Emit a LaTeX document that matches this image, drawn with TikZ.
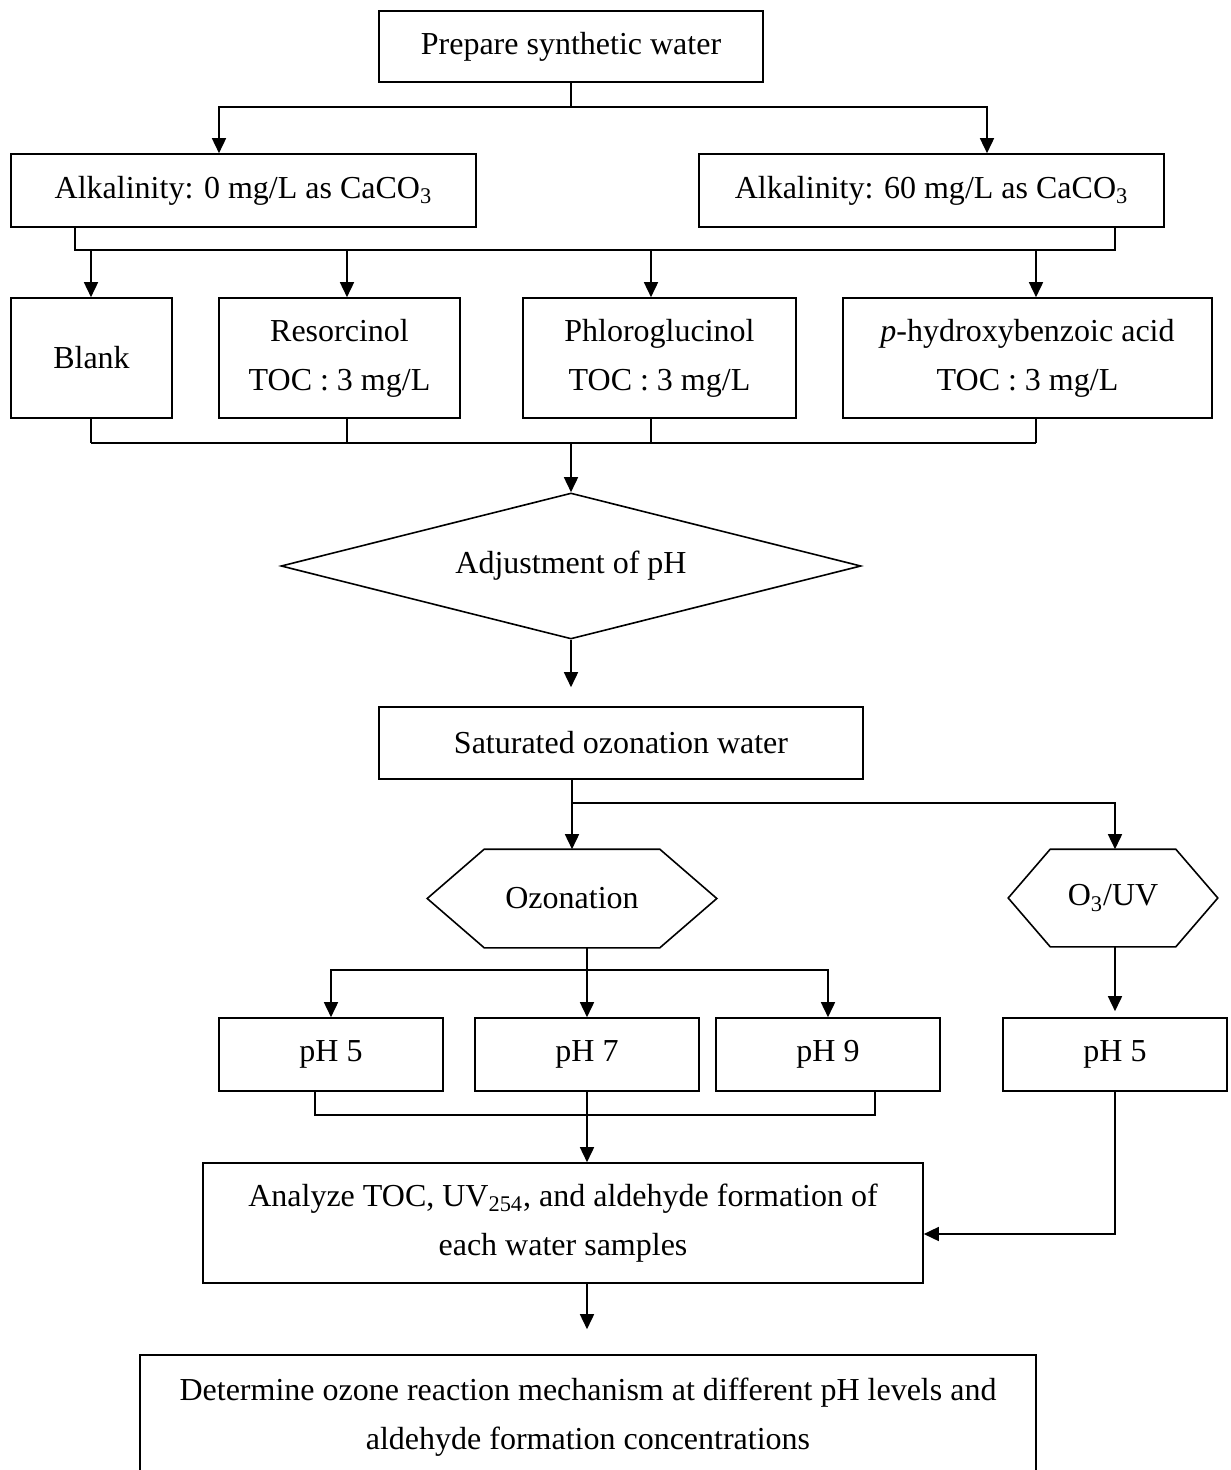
\documentclass[tikz,border=0pt]{standalone}
\usepackage{fontspec}
\setmainfont{Liberation Serif}
\usetikzlibrary{arrows.meta,shapes.geometric}

\begin{document}
\begin{tikzpicture}[x=0.5pt,y=-0.5pt,line width=0.8pt,
  every node/.style={inner sep=0pt,font=\fontsize{16}{24.5}\selectfont,align=center},
  box/.style={draw,rectangle,minimum width=#1*0.5pt,minimum height=73*0.5pt},
  tall/.style={minimum height=120*0.5pt},
  arr/.style={-{Triangle[length=7.5pt,width=7pt]}}]
  \useasboundingbox (0,0) rectangle (1230,1470);
  \clip (0,0) rectangle (1230,1470);

  % boxes
  \node[box=384,minimum height=71*0.5pt] (prep) at (571,46.5) {Prepare synthetic water};
  \node[box=465] (alk0) at (243.5,190.5) {Alkalinity: 0 mg/L as CaCO\textsubscript{3}};
  \node[box=465] (alk60) at (931.5,190.5) {Alkalinity: 60 mg/L as CaCO\textsubscript{3}};
  \node[box=161,tall] (blank) at (91.5,358) {Blank};
  \node[box=241,tall] (reso) at (339.5,358) {Resorcinol\\TOC : 3 mg/L};
  \node[box=273,tall] (phloro) at (659.5,358) {Phloroglucinol\\TOC : 3 mg/L};
  \node[box=369,tall] (phba) at (1027.5,358) {\textit{p}-hydroxybenzoic acid\\TOC : 3 mg/L};
  \node[draw,diamond,aspect=3.97,minimum width=580*0.5pt,minimum height=146*0.5pt] (adj) at (571,566) {Adjustment of pH};
  \node[box=484,minimum height=72*0.5pt] (sat) at (621,743) {Saturated ozonation water};
  \node[minimum width=288*0.5pt,minimum height=97*0.5pt] (ozon) at (572,898.5) {Ozonation};
  \node[minimum width=208*0.5pt,minimum height=96*0.5pt] (o3uv) at (1113,898) {O\textsubscript{3}/UV};
  \node[box=224] (pha) at (331,1054.5) {pH 5};
  \node[box=224] (phb) at (587,1054.5) {pH 7};
  \node[box=224] (phc) at (828,1054.5) {pH 9};
  \node[box=224] (phd) at (1115,1054.5) {pH 5};
  \node[box=720,tall] (anal) at (563,1223) {Analyze TOC, UV\textsubscript{254}, and aldehyde formation of\\each water samples};
  \node[box=896,minimum height=124*0.5pt] (concl) at (588,1417) {Determine ozone reaction mechanism at different pH levels and\\aldehyde formation concentrations};

  % hexagon outlines
  \draw ([xshift=28.5pt]ozon.north west) -- ([xshift=-28.5pt]ozon.north east) -- (ozon.east)
    -- ([xshift=-28.5pt]ozon.south east) -- ([xshift=28.5pt]ozon.south west) -- (ozon.west) -- cycle;
  \draw ([xshift=21pt]o3uv.north west) -- ([xshift=-21pt]o3uv.north east) -- (o3uv.east)
    -- ([xshift=-21pt]o3uv.south east) -- ([xshift=21pt]o3uv.south west) -- (o3uv.west) -- cycle;

  % connectors
  \coordinate (b1) at (571,107);
  \draw (prep.south) -- (b1);
  \draw[arr] (b1) -| (219,0 |- alk0.north);
  \draw[arr] (b1) -| (987,0 |- alk60.north);

  \coordinate (b2l) at (75,250);
  \coordinate (b2r) at (1115,250);
  \draw (b2l |- alk0.south) -- (b2l) -- (b2r) -- (b2r |- alk60.south);
  \foreach \n/\x in {blank/91,reso/347,phloro/651,phba/1036}
    \draw[arr] (\x,250) -- (\x,0 |- \n.north);

  \foreach \n/\x in {blank/91,reso/347,phloro/651,phba/1036}
    \draw (\x,0 |- \n.south) -- (\x,443);
  \draw (91,443) -- (1036,443);
  \draw[arr] (adj.north |- 0,443) -- (adj.north);

  \draw[arr,shorten >=9.5pt] (adj.south) -- (adj.south |- sat.north);

  \coordinate (b4) at (571,803);
  \draw[arr] (ozon.north |- sat.south) -- (ozon.north);
  \draw[arr] (b4) -| (phd.north |- o3uv.north);

  \draw[arr] (phb.north |- ozon.south) -- (phb.north);
  \draw[arr] (phb.north |- 0,970) -| (pha.north);
  \draw[arr] (phb.north |- 0,970) -| (phc.north);
  \draw[arr,shorten >=3pt] (phd.north |- o3uv.south) -- (phd.north);

  \draw (315,0 |- pha.south) -- (315,1115) -- (875,1115) -- (875,0 |- phc.south);
  \draw[arr] (phb.south) -- (phb.south |- anal.north);
  \draw[arr] (phd.south) |- ([yshift=-5.5pt]anal.east);

  \draw[arr,shorten >=12.5pt] (phb.south |- anal.south) -- (phb.south |- concl.north);
\end{tikzpicture}
\end{document}
